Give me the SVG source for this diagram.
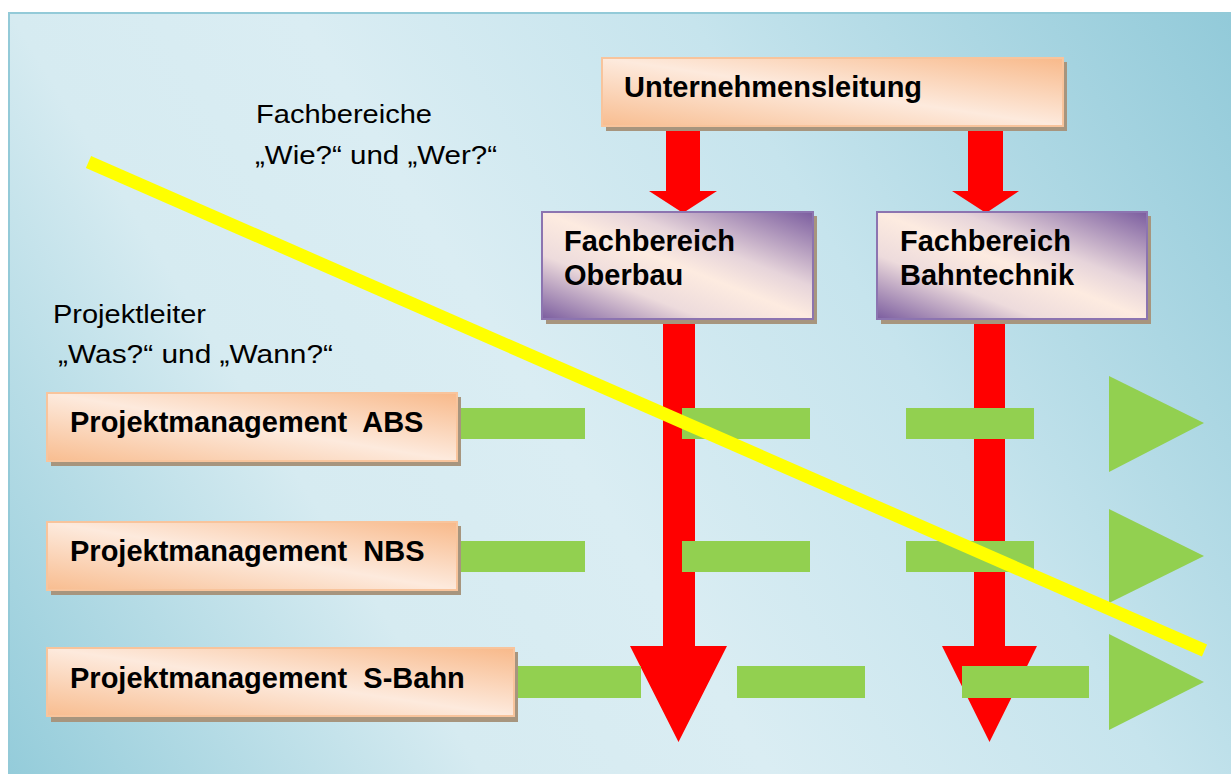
<svg xmlns="http://www.w3.org/2000/svg" width="1231" height="774" viewBox="0 0 1231 774">
<defs>
<linearGradient id="bg" gradientUnits="userSpaceOnUse" x1="1231" y1="14" x2="9" y2="774">
<stop offset="0" stop-color="#92cad9"/>
<stop offset="0.32" stop-color="#c6e4ed"/>
<stop offset="0.55" stop-color="#daedf3"/>
<stop offset="0.72" stop-color="#d6ebf1"/>
<stop offset="1" stop-color="#94ccda"/>
</linearGradient>
<linearGradient id="gOrange" x1="1" y1="0" x2="0" y2="1">
<stop offset="0" stop-color="#f8b98a"/>
<stop offset="0.5" stop-color="#fdeadd"/>
<stop offset="1" stop-color="#f8bd90"/>
</linearGradient>
<linearGradient id="gPurple" x1="1" y1="0" x2="0" y2="1">
<stop offset="0" stop-color="#7b5d9f"/>
<stop offset="0.35" stop-color="#e6d4da"/>
<stop offset="0.5" stop-color="#fdebe0"/>
<stop offset="0.7" stop-color="#eddbdc"/>
<stop offset="1" stop-color="#7b5d9f"/>
</linearGradient>
</defs>
<style>
.shadow{fill:#a7957e}
.orange{fill:url(#gOrange);stroke:#f8c49c;stroke-width:2}
.purple{fill:url(#gPurple);stroke:#8c74b0;stroke-width:2}
.bold{font-family:"Liberation Sans",Arial,sans-serif;font-weight:bold;font-size:29px;fill:#000;white-space:pre}
.reg{font-family:"Liberation Sans",Arial,sans-serif;font-size:25px;fill:#000}
.red{fill:#ff0000}
.green{fill:#92d050}
</style>
<rect x="9" y="13" width="1230" height="770" fill="url(#bg)" stroke="#93cad8" stroke-width="2"/>

<g id="label-fachbereiche">
<text class="reg" x="256" y="123" textLength="176" lengthAdjust="spacingAndGlyphs">Fachbereiche</text>
<text class="reg" x="255" y="164" textLength="242" lengthAdjust="spacingAndGlyphs">„Wie?“ und „Wer?“</text>
</g>
<g id="label-projektleiter">
<text class="reg" x="53" y="323" textLength="153" lengthAdjust="spacingAndGlyphs">Projektleiter</text>
<text class="reg" x="58" y="363" textLength="275" lengthAdjust="spacingAndGlyphs">„Was?“ und „Wann?“</text>
</g>

<g id="connectors">
<polygon class="red" points="666,127 700,127 700,191 717,191 683,213 649,191 666,191"/>
<polygon class="red" points="968,127 1003,127 1003,191 1019,191 986,213 952,191 968,191"/>
<polygon class="red" points="663,319 695,319 695,646 727,646 678.5,742 630,646 663,646"/>
<polygon class="red" points="974,319 1005,319 1005,646 1037,646 989.5,742 942,646 974,646"/>
<g id="flow-abs">
<rect class="green" x="458" y="408" width="127" height="31"/>
<rect class="green" x="682" y="408" width="128" height="31"/>
<rect class="green" x="906" y="408" width="128" height="31"/>
<polygon class="green" points="1109,376 1204,423 1109,472"/>
</g>
<g id="flow-nbs">
<rect class="green" x="458" y="541" width="127" height="31"/>
<rect class="green" x="682" y="541" width="128" height="31"/>
<rect class="green" x="906" y="541" width="128" height="31"/>
<polygon class="green" points="1109,509 1204,556 1109,603"/>
</g>
<g id="flow-sbahn">
<rect class="green" x="514" y="666" width="127" height="32"/>
<rect class="green" x="737" y="666" width="128" height="32"/>
<rect class="green" x="962" y="666" width="127" height="32"/>
<polygon class="green" points="1109,634 1204,682 1109,730"/>
</g>
</g>

<g id="node-unternehmensleitung">
<rect class="shadow" x="606" y="62" width="461" height="69"/>
<rect class="orange" x="602" y="58" width="461" height="68"/>
<text class="bold" x="624" y="97">Unternehmensleitung</text>
</g>
<g id="node-oberbau">
<rect class="shadow" x="546" y="216" width="271" height="108"/>
<rect class="purple" x="542" y="212" width="271" height="107"/>
<text class="bold" x="564" y="251">Fachbereich</text>
<text class="bold" x="564" y="285">Oberbau</text>
</g>
<g id="node-bahntechnik">
<rect class="shadow" x="881" y="216" width="270" height="108"/>
<rect class="purple" x="877" y="212" width="270" height="107"/>
<text class="bold" x="900" y="251">Fachbereich</text>
<text class="bold" x="900" y="285">Bahntechnik</text>
</g>
<g id="node-pm-abs">
<rect class="shadow" x="51" y="397" width="410" height="69"/>
<rect class="orange" x="47" y="393" width="410" height="68"/>
<text class="bold" x="70" y="432">Projektmanagement  ABS</text>
</g>
<g id="node-pm-nbs">
<rect class="shadow" x="51" y="526" width="410" height="69"/>
<rect class="orange" x="47" y="522" width="410" height="68"/>
<text class="bold" x="70" y="561">Projektmanagement  NBS</text>
</g>
<g id="node-pm-sbahn">
<rect class="shadow" x="51" y="652" width="467" height="70"/>
<rect class="orange" x="47" y="648" width="467" height="68"/>
<text class="bold" x="70" y="688">Projektmanagement  S-Bahn</text>
</g>

<g id="divider">
<line x1="88.5" y1="162" x2="1204.5" y2="650.5" stroke="#ffff00" stroke-width="13"/>
</g>
</svg>
